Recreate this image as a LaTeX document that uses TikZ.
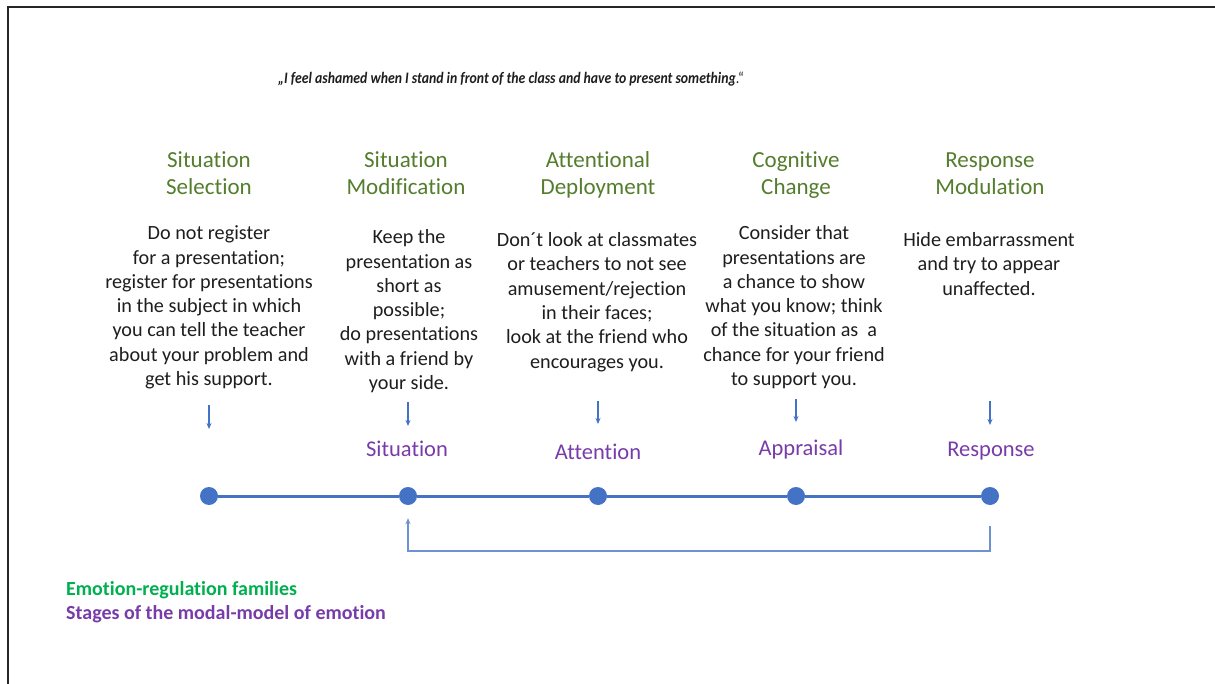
\documentclass[tikz,border=0pt]{standalone}
\usepackage{fontspec}
\usepackage{graphicx}
\setmainfont{Carlito}[Ligatures=NoCommon]
\usetikzlibrary{arrows.meta,calc}
\definecolor{hgreen}{RGB}{84,125,45}
\definecolor{lgreen}{RGB}{0,176,80}
\definecolor{mpurple}{RGB}{120,60,170}
\definecolor{mblue}{RGB}{68,114,196}
\definecolor{fblue}{RGB}{110,145,210}
\definecolor{bodytext}{RGB}{30,30,30}
\newcommand\bstrut{\rule{0pt}{15pt}}
\newcommand\hstrut{\rule{0pt}{17pt}}
\begin{document}
\begin{tikzpicture}[x=1pt,y=-1pt,
  heading/.style={font=\fontsize{23}{27}\selectfont, text=hgreen, align=center, anchor=north, inner sep=0pt},
  bodybox/.style={font=\fontsize{20.2}{24.3}\selectfont, text=bodytext, align=center, anchor=north, inner sep=0pt},
  stage/.style={font=\fontsize{22.5}{27}\selectfont, text=mpurple, anchor=base, inner sep=0pt},
  dot/.style={circle, fill=mblue, minimum size=18pt, inner sep=0pt},
  timeline/.style={draw=mblue, line width=3pt},
  downarrow/.style={draw=mblue, line width=1.3pt, -{Stealth[length=6pt,width=5pt]}},
  feedback/.style={draw=fblue, line width=1.5pt, -{Stealth[length=6pt,width=5pt]}},
  legend/.style={font=\fontsize{20}{24}\selectfont\bfseries, anchor=base west, inner sep=0pt}
]
\useasboundingbox (0,0) rectangle (1215,684);
\fill[white] (0,0) rectangle (1215,684);
% frame
\draw[line width=2pt, black!85] (8,684) -- (8,7) -- (1215,7);

% title
\node[font=\fontsize{16}{18}\selectfont\bfseries\itshape, text=bodytext, anchor=base, inner sep=0pt] (title) at (511,84)
  {\scalebox{0.86}[1]{„I feel ashamed when I stand in front of the class and have to present something{\mdseries\upshape .“}}};

% headings
\node[heading] (h1) at (209,150) {\hstrut Situation\\Selection};
\node[heading] (h2) at (406,150) {\hstrut Situation\\Modification};
\node[heading] (h3) at (598,150) {\hstrut Attentional\\Deployment};
\node[heading] (h4) at (796,150) {\hstrut Cognitive\\Change};
\node[heading] (h5) at (990,150) {\hstrut Response\\Modulation};

% bodies
\node[bodybox] (b1) at (209,224.5) {\bstrut Do not register\\ for a presentation;\\ register for presentations\\ in the subject in which\\ you can tell the teacher\\ about your problem and\\ get his support.};
\node[bodybox] (b2) at (409,228.5) {\bstrut Keep the\\ presentation as\\ short as\\ possible;\\ do presentations\\ with a friend by\\ your side.};
\node[bodybox] (b3) at (597,231.5) {\bstrut Don´t look at classmates\\ or teachers to not see\\ amusement/rejection\\ in their faces;\\ look at the friend who\\ encourages you.};
\node[bodybox] (b4) at (794,224.5) {\bstrut Consider that\\ presentations are\\ a chance to show\\ what you know; think\\ of the situation as\ \ a\\ chance for your friend\\ to support you.};
\node[bodybox] (b5) at (989,231.5) {\bstrut Hide embarrassment\\ and try to appear\\ unaffected.};

% stage labels
\node[stage] (s2) at (407,456) {Situation};
\node[stage] (s3) at (598,459) {Attention};
\node[stage] (s4) at (801,455) {Appraisal};
\node[stage] (s5) at (991,456) {Response};

% down arrows
\coordinate (a1s) at (209,405); \coordinate (a1e) at (209,429);
\coordinate (a2s) at (408,402); \coordinate (a2e) at (408,426);
\coordinate (a3s) at (598,401); \coordinate (a3e) at (598,424);
\coordinate (a4s) at (796,399); \coordinate (a4e) at (796,422);
\coordinate (a5s) at (990,401); \coordinate (a5e) at (990,425);
\draw[downarrow] (a1s) -- (a1e);
\draw[downarrow] (a2s) -- (a2e);
\draw[downarrow] (a3s) -- (a3e);
\draw[downarrow] (a4s) -- (a4e);
\draw[downarrow] (a5s) -- (a5e);

% timeline
\node[dot] (d1) at (209,496) {};
\node[dot] (d2) at (408,496) {};
\node[dot] (d3) at (598,496) {};
\node[dot] (d4) at (796,496) {};
\node[dot] (d5) at (990,496) {};
\draw[timeline] (d1) -- (d2) -- (d3) -- (d4) -- (d5);

% feedback loop
\coordinate (fb) at (990,526);
\draw[feedback] (fb) -- ++(0,25) -| ([yshift=-13pt]d2.south);

% legend
\node[legend, text=lgreen] (l1) at (66,595) {Emotion-regulation families};
\node[legend, text=mpurple] (l2) at (66,619) {Stages of the modal-model of emotion};
\end{tikzpicture}
\end{document}
